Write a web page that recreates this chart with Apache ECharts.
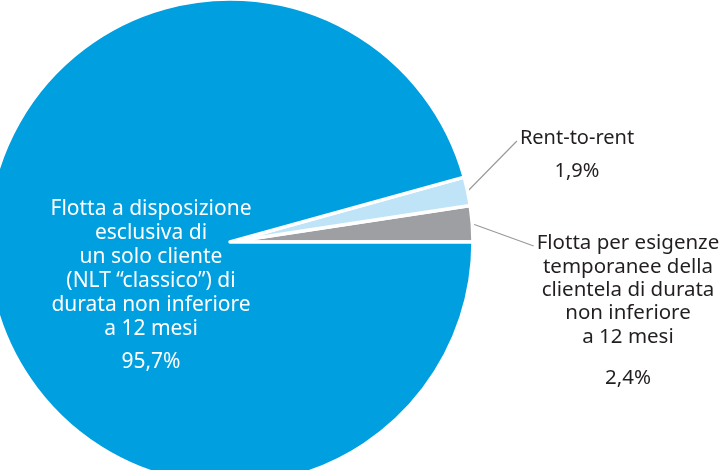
<!DOCTYPE html>
<html>
<head>
<meta charset="utf-8">
<script src="https://cdn.jsdelivr.net/npm/echarts@6/dist/echarts.min.js"></script>
<style>
  html, body { margin: 0; padding: 0; background: #fff; }
  #main { width: 721px; height: 470px; }
</style>
</head>
<body>
<div id="main"></div>
<script>
// dati
var categories = [
  'Flotta per esigenze\ntemporanee della\nclientela di durata\nnon inferiore\na 12 mesi',
  'Rent-to-rent',
  'Flotta a disposizione\nesclusiva di\nun solo cliente\n(NLT \u201cclassico\u201d) di\ndurata non inferiore\na 12 mesi'
];
var values = [2.4, 1.9, 95.7];
var colors = ['#9d9fa2', '#bfe4f7', '#009fe0'];

var font = "'Noto Sans', sans-serif";

function pct(v) {
  return String(v).replace('.', ',') + '%';
}

// posizione delle etichette (centro x, top y) e padding della percentuale
var labelPos = [
  { x: 628, y: 232, gap: 36, lh: 23.3, size: 20.5, color: '#231f20' },
  { x: 577, y: 127, gap: 20, lh: 23, size: 20, color: '#231f20' },
  { x: 151, y: 197, gap: 18, lh: 24, size: 21, color: '#ffffff' }
];

var chart = echarts.init(document.getElementById('main'), null, { renderer: 'canvas' });

var data = categories.map(function (name, i) {
  var lp = labelPos[i];
  return {
    name: name,
    value: values[i],
    itemStyle: { color: colors[i] },
    label: {
      position: i === 2 ? 'inside' : 'outside',
      color: lp.color,
      rich: {
        n: { color: lp.color, fontSize: lp.size, lineHeight: lp.lh, fontFamily: font, align: 'center' },
        p: { color: lp.color, fontSize: lp.size, lineHeight: lp.lh, fontFamily: font, padding: [lp.gap, 0, 0, 0], align: 'center' }
      }
    },
    labelLine: { show: i !== 2 }
  };
});

var option = {
  animation: false,
  series: [{
    type: 'pie',
    center: [230, 242],
    radius: [0, 243],
    startAngle: 0,
    clockwise: false,
    avoidLabelOverlap: false,
    itemStyle: { borderColor: '#fff', borderWidth: 3.5 },
    label: {
      show: true,
      fontFamily: font,
      formatter: function (p) {
        return '{n|' + p.name.split('\n').join('}\n{n|') + '}\n{p|' + pct(p.value) + '}';
      }
    },
    labelLine: {
      show: true,
      length: 40,
      length2: 0,
      lineStyle: { color: '#9a9a9a', width: 1.2 }
    },
    labelLayout: function (params) {
      var lp = labelPos[params.dataIndex];
      var out = { x: lp.x, y: lp.y, align: 'center', verticalAlign: 'top' };
      if (params.dataIndex !== 2 && params.labelLinePoints) {
        var left = lp.x - params.labelRect.width / 2;
        var end = [left - 3, lp.y + 14];
        var start = params.labelLinePoints[0];
        out.labelLinePoints = [start, end, end];
      }
      return out;
    },
    data: data
  }]
};

chart.setOption(option);
</script>
</body>
</html>
